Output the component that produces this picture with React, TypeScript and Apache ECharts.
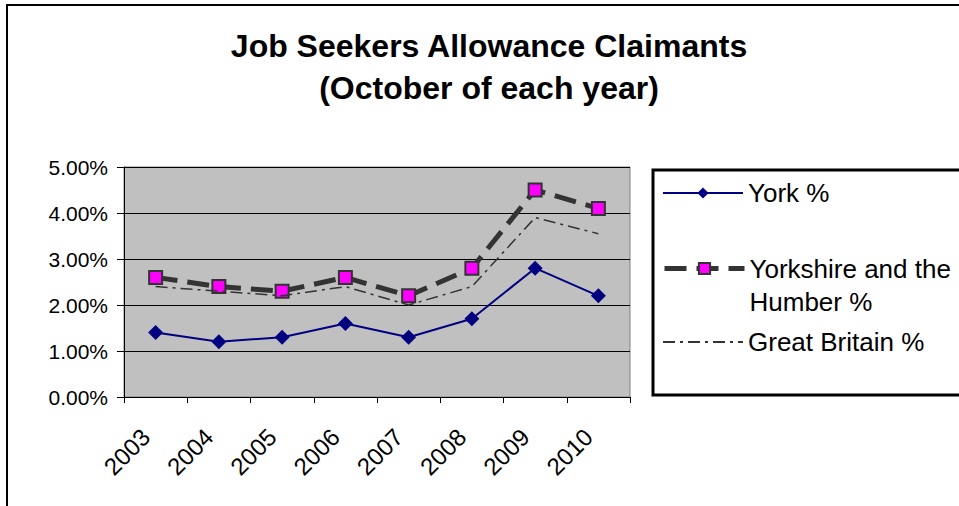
import React, { useEffect, useRef } from "react";
import * as echarts from "echarts";

const years = ["2003", "2004", "2005", "2006", "2007", "2008", "2009", "2010"];
const york = [1.4, 1.2, 1.3, 1.6, 1.3, 1.7, 2.8, 2.2];
const yorkshire = [2.6, 2.4, 2.3, 2.6, 2.2, 2.8, 4.5, 4.1];
const greatBritain = [2.4, 2.3, 2.2, 2.4, 2.0, 2.4, 3.9, 3.55];
const titleLines = ["Job Seekers Allowance Claimants", "(October of each year)"];
const seriesNames = ["York %", "Yorkshire and the Humber %", "Great Britain %"];

const FONT = "'Liberation Sans', Arial, sans-serif";

export default function App() {
  const ref = useRef<HTMLDivElement>(null);
  useEffect(() => {
    if (!ref.current) return;
    const chart = echarts.init(ref.current, null, { renderer: "svg" });
    const legendText = { color: "#000", fontSize: 26, fontFamily: FONT };
    chart.setOption({
      animation: false,
      backgroundColor: "#fff",
      title: {
        text: titleLines.join("\n"),
        left: 489,
        top: 25,
        padding: 0,
        textAlign: "center",
        textStyle: {
          fontSize: 32,
          fontWeight: "bold",
          fontFamily: FONT,
          color: "#000",
          lineHeight: 42,
        },
      },
      grid: {
        left: 124,
        top: 167,
        width: 506,
        height: 230,
        show: true,
        backgroundColor: "#C0C0C0",
        borderColor: "#808080",
        borderWidth: 1,
      },
      legend: [
        {
          data: [seriesNames[0]],
          left: 662,
          top: 178,
          padding: 0,
          itemWidth: 80,
          itemHeight: 14,
          textStyle: { ...legendText, lineHeight: 30 },
        },
        {
          data: [seriesNames[1]],
          left: 662,
          top: 219,
          padding: 0,
          itemWidth: 80,
          itemHeight: 14,
          lineStyle: { width: 5, color: "#333333", type: [22, 10] },
          formatter: () => "\nYorkshire and the\nHumber %",
          textStyle: { ...legendText, lineHeight: 33 },
        },
        {
          data: [seriesNames[2]],
          left: 662,
          top: 327,
          padding: 0,
          itemWidth: 80,
          itemHeight: 14,
          itemStyle: { opacity: 0 },
          textStyle: { ...legendText, lineHeight: 30 },
        },
      ],
      xAxis: {
        type: "category",
        data: years,
        boundaryGap: true,
        axisLine: { show: true, lineStyle: { color: "#000", width: 1 } },
        axisTick: { show: true, length: 6, lineStyle: { color: "#000" } },
        axisLabel: {
          rotate: 45,
          fontSize: 24,
          fontFamily: FONT,
          color: "#000",
          margin: 26,
          padding: [0, 14, 0, 0],
        },
        splitLine: { show: false },
      },
      yAxis: {
        type: "value",
        min: 0,
        max: 5,
        interval: 1,
        axisLine: { show: true, lineStyle: { color: "#000", width: 1 } },
        axisTick: { show: true, length: 7, lineStyle: { color: "#000" } },
        axisLabel: {
          fontSize: 21,
          fontFamily: FONT,
          color: "#000",
          margin: 16,
          formatter: (v: number) => v.toFixed(2) + "%",
        },
        splitLine: { show: true, lineStyle: { color: "#000", width: 1 } },
      },
      series: [
        {
          name: seriesNames[0],
          type: "line",
          data: york,
          symbol: "diamond",
          symbolSize: 15,
          itemStyle: { color: "#000080" },
          lineStyle: { color: "#000080", width: 2 },
          z: 3,
        },
        {
          name: seriesNames[1],
          type: "line",
          data: yorkshire,
          symbol: "rect",
          symbolSize: 13,
          itemStyle: { color: "#FF00FF", borderColor: "#333333", borderWidth: 2 },
          lineStyle: { color: "#333333", width: 5, type: [22, 10] },
          z: 2,
        },
        {
          name: seriesNames[2],
          type: "line",
          data: greatBritain,
          symbol: "none",
          itemStyle: { color: "#333333" },
          lineStyle: { color: "#333333", width: 1.5, type: [12, 5, 3, 5] },
          z: 4,
        },
      ],
      graphic: [
        {
          type: "line",
          shape: { x1: 6, y1: 5, x2: 959, y2: 5 },
          style: { stroke: "#000", lineWidth: 2 },
        },
        {
          type: "line",
          shape: { x1: 7, y1: 4, x2: 7, y2: 506 },
          style: { stroke: "#000", lineWidth: 2 },
        },
        {
          type: "rect",
          shape: { x: 653, y: 170, width: 320, height: 225 },
          style: { fill: "none", stroke: "#000", lineWidth: 3 },
        },
      ],
    });
    return () => chart.dispose();
  }, []);
  return (
    <div
      ref={ref}
      style={{ position: "absolute", left: 0, top: 0, width: 959, height: 506 }}
    />
  );
}
